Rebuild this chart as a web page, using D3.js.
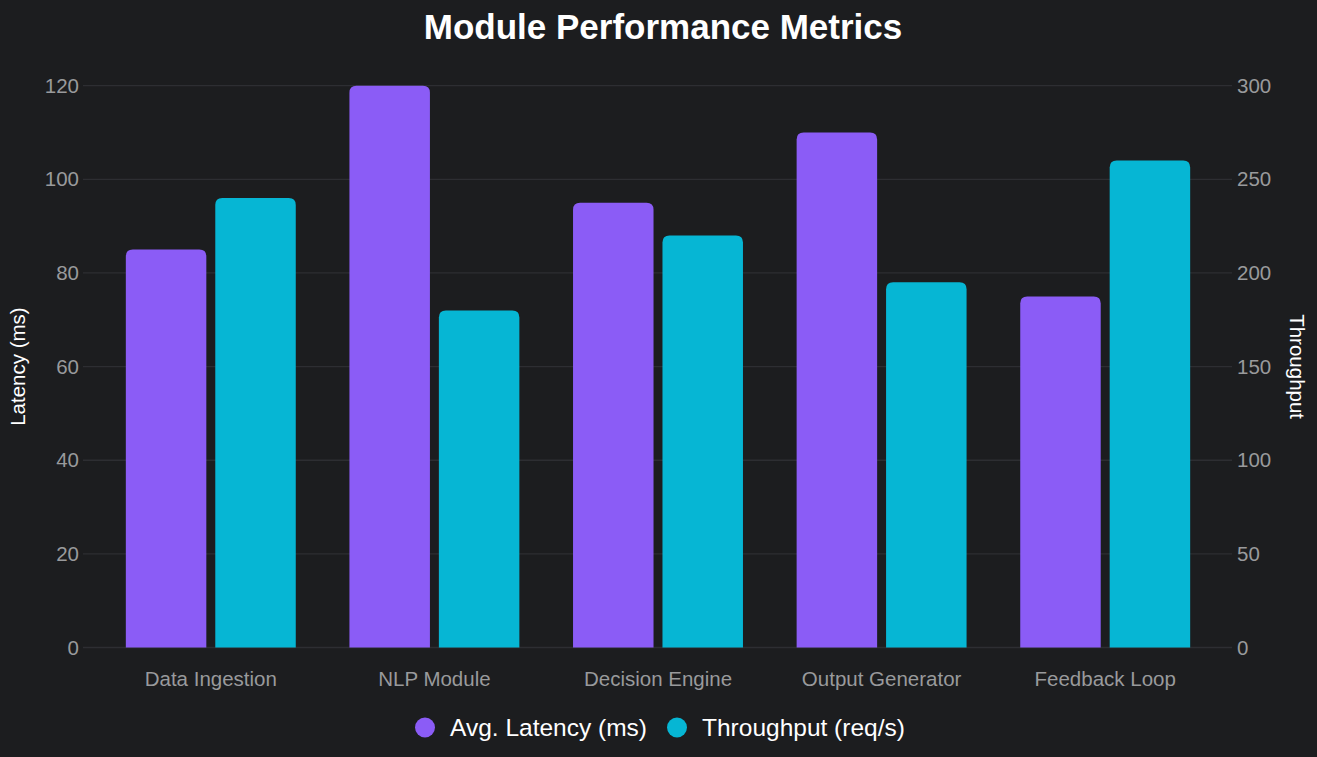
<!DOCTYPE html>
<html>
<head>
<meta charset="utf-8">
<script src="https://cdn.jsdelivr.net/npm/d3@7"></script>
<style>
  html, body { margin: 0; padding: 0; background: #1c1d1f; }
  svg { display: block; font-family: "Liberation Sans", Arial, Helvetica, sans-serif; }
</style>
</head>
<body>
<div id="chart"></div>
<script>
// chart values
const modules = ["Data Ingestion", "NLP Module", "Decision Engine", "Output Generator", "Feedback Loop"];
const latency = [85, 120, 95, 110, 75];
const throughput = [240, 180, 220, 195, 260];
const seriesNames = ["Avg. Latency (ms)", "Throughput (req/s)"];
const latencyTicks = [0, 20, 40, 60, 80, 100, 120];
const throughputTicks = [0, 50, 100, 150, 200, 250, 300];

const W = 1317, H = 757;
const plot = {left: 99, right: 1217, top: 85.7, bottom: 647.5};
const colors = ["#8b5cf6", "#06b6d4"];

const svg = d3.select("#chart").append("svg").attr("width", W).attr("height", H);
svg.append("rect").attr("width", W).attr("height", H).attr("fill", "#1c1d1f");

const x = d3.scaleBand().domain(modules).range([plot.left, plot.right])
    .paddingInner(0.2).paddingOuter(0.1);
const xs = d3.scaleBand().domain(seriesNames).range([0, x.bandwidth()])
    .paddingInner(0.1).paddingOuter(0.05);
const yL = d3.scaleLinear().domain([0, 120]).range([plot.bottom, plot.top]);
const yR = d3.scaleLinear().domain([0, 300]).range([plot.bottom, plot.top]);

// grid lines
svg.append("g").selectAll("line").data(latencyTicks).enter().append("line")
    .attr("x1", plot.left - 16).attr("x2", plot.right + 15)
    .attr("y1", d => yL(d)).attr("y2", d => yL(d))
    .attr("stroke", "#2d2e32").attr("stroke-width", 1.3);

// left axis
const leftAxis = svg.append("g").attr("transform", "translate(" + (plot.left - 20) + ",0)")
    .call(d3.axisLeft(yL).tickValues(latencyTicks).tickSize(0).tickPadding(0));
leftAxis.select(".domain").remove();
leftAxis.selectAll("text").attr("fill", "#999a9c").attr("font-size", 20.5)
    .attr("font-family", "Liberation Sans, Arial, sans-serif");

// right axis
const rightAxis = svg.append("g").attr("transform", "translate(" + (plot.right + 20) + ",0)")
    .call(d3.axisRight(yR).tickValues(throughputTicks).tickSize(0).tickPadding(0));
rightAxis.select(".domain").remove();
rightAxis.selectAll("text").attr("fill", "#999a9c").attr("font-size", 20.5)
    .attr("font-family", "Liberation Sans, Arial, sans-serif");

// x axis labels
const bottomAxis = svg.append("g").attr("transform", "translate(0," + (plot.bottom + 24) + ")")
    .call(d3.axisBottom(x).tickSize(0).tickPadding(0));
bottomAxis.select(".domain").remove();
bottomAxis.selectAll("text").attr("fill", "#999a9c").attr("font-size", 20.5)
    .attr("font-family", "Liberation Sans, Arial, sans-serif");

// bar with rounded top corners
function barPath(x0, y0, w, yBase, r){
  const h = yBase - y0;
  r = Math.min(r, w / 2, h);
  return "M" + x0 + "," + yBase +
    "V" + (y0 + r) +
    "Q" + x0 + "," + y0 + " " + (x0 + r) + "," + y0 +
    "H" + (x0 + w - r) +
    "Q" + (x0 + w) + "," + y0 + " " + (x0 + w) + "," + (y0 + r) +
    "V" + yBase + "Z";
}

const rows = modules.map((m, i) => ({module: m, values: [
  {series: seriesNames[0], y: yL(latency[i])},
  {series: seriesNames[1], y: yR(throughput[i])}
]}));

const groups = svg.append("g").selectAll("g").data(rows).enter().append("g")
    .attr("transform", d => "translate(" + x(d.module) + ",0)");
groups.selectAll("path").data(d => d.values).enter().append("path")
    .attr("d", d => barPath(xs(d.series), d.y, xs.bandwidth(), plot.bottom, 7))
    .attr("fill", (d, i) => colors[i]);

// title
svg.append("text").attr("x", 663).attr("y", 38.5).attr("text-anchor", "middle")
    .attr("fill", "#ffffff").attr("font-size", 35).attr("font-weight", "bold")
    .text("Module Performance Metrics");

// axis titles
svg.append("text").attr("transform", "translate(25," + ((plot.top + plot.bottom) / 2) + ") rotate(-90)")
    .attr("text-anchor", "middle").attr("fill", "#ffffff").attr("font-size", 20.5)
    .text("Latency (ms)");
svg.append("text").attr("transform", "translate(1290," + ((plot.top + plot.bottom) / 2) + ") rotate(90)")
    .attr("text-anchor", "middle").attr("fill", "#ffffff").attr("font-size", 20.5)
    .text("Throughput");

// legend
const legendX = [425, 677];
const legend = svg.append("g").selectAll("g").data(seriesNames).enter().append("g")
    .attr("transform", (d, i) => "translate(" + legendX[i] + ",727.5)");
legend.append("circle").attr("r", 10).attr("fill", (d, i) => colors[i]);
legend.append("text").attr("x", 25).attr("y", 8.3).attr("fill", "#ffffff")
    .attr("font-size", 24.5).text(d => d);
</script>
</body>
</html>
